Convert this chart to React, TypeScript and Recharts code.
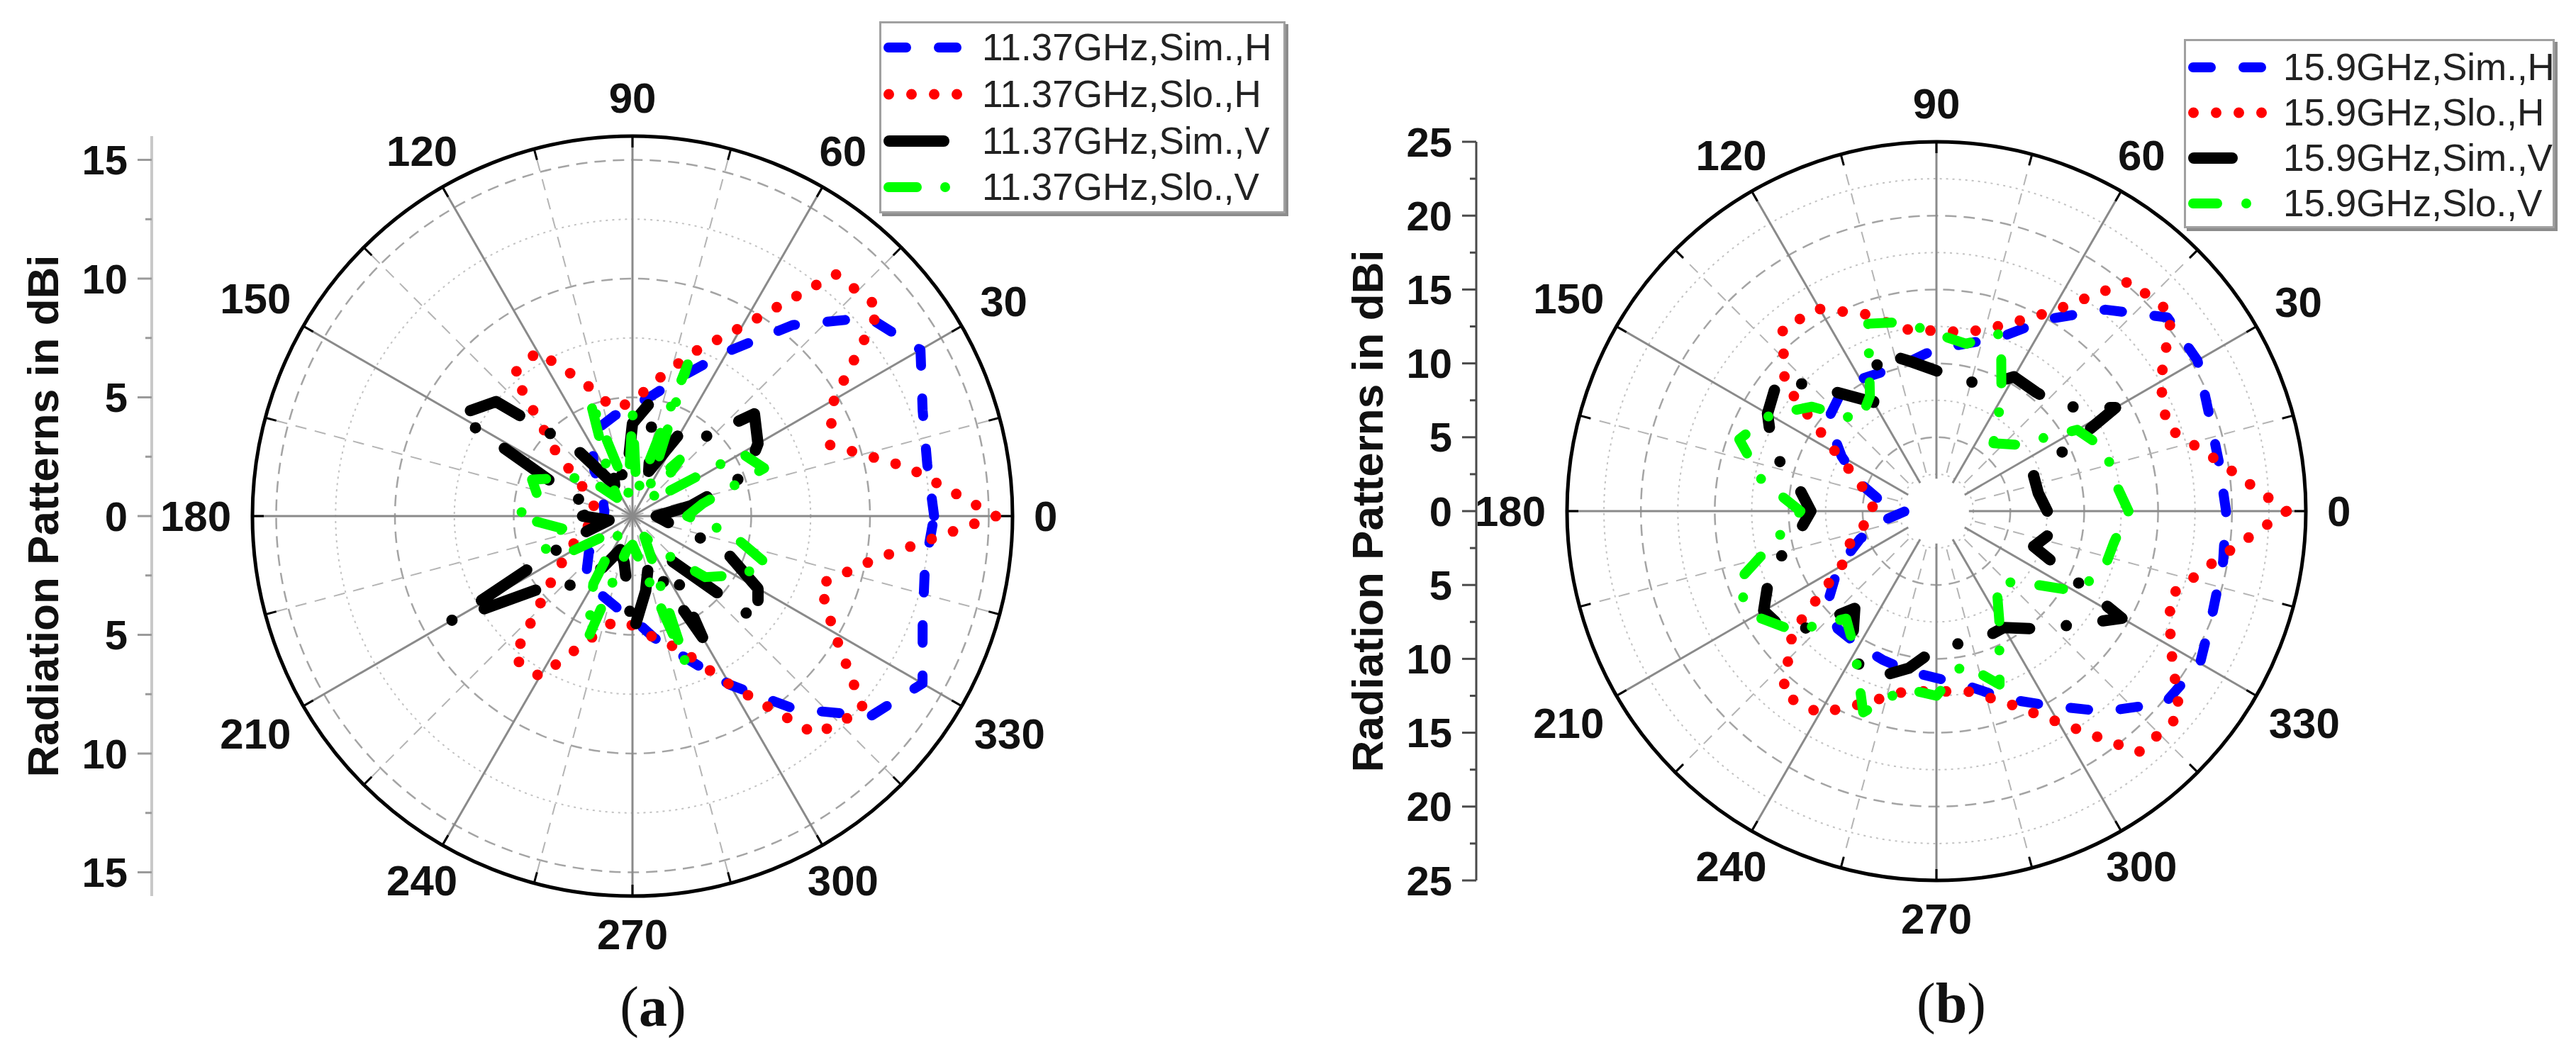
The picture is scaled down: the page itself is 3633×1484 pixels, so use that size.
import React from 'react';
import { RadarChart, Radar, PolarGrid, PolarAngleAxis, PolarRadiusAxis, LineChart, YAxis } from 'recharts';

// ---------- data ----------
const ANGLES = [0, 10, 20, 30, 40, 50, 60, 70, 80, 90, 100, 110, 120, 130, 140, 150, 160, 170, 180, 190, 200, 210, 220, 230, 240, 250, 260, 270, 280, 290, 300, 310, 320, 330, 340, 350];

// panel (a) 11.37 GHz
const A_SIM_H = [12.7, 12.6, 13.0, 14.0, 13.0, 10.5, 8.0, 6.3, 5.2, 4.6, 4.3, 4.0, 3.4, 2.5, 1.6, 1.4, 1.3, 1.2, 1.2, 1.3, 1.5, 1.8, 2.4, 3.0, 3.4, 3.6, 3.9, 4.3, 5.2, 6.3, 8.2, 10.6, 13.1, 14.1, 13.0, 12.5];
const A_SLO_H = [15.3, 11.8, 8.8, 9.8, 13.6, 13.3, 9.2, 7.3, 5.8, 4.8, 4.6, 6.0, 8.0, 7.8, 4.2, 2.4, 1.8, 1.6, 1.6, 1.8, 2.4, 3.2, 4.6, 7.8, 7.8, 5.6, 4.5, 4.6, 5.2, 6.0, 8.2, 12.0, 12.7, 9.8, 8.4, 10.4];
const A_SIM_V = [1.0, 2.5, 5.1, 6.1, 6.7, 4.1, 4.1, 2.0, 5.0, 3.9, 1.5, 2.5, 1.5, 3.7, 7.5, 8.5, 3.0, 1.5, 2.1, 1.0, 2.5, 8.8, 4.5, 3.8, 2.5, 1.5, 2.0, 5.0, 3.2, 2.0, 5.9, 2.3, 6.9, 6.1, 4.1, 1.5];
const A_SLO_V = [2.3, 3.0, 5.9, 5.3, 1.0, 3.1, 1.5, 6.8, 1.0, 4.4, 1.0, 5.3, 2.0, 1.0, 2.5, 3.2, 4.5, 4.0, 4.9, 3.0, 4.0, 3.0, 1.0, 0.8, 3.3, 5.5, 1.5, 1.2, 2.0, 6.6, 1.0, 2.0, 4.0, 5.0, 6.1, 4.2];

// panel (b) 15.9 GHz
const B_SIM_H = [19.6, 19.4, 19.6, 20.4, 20.4, 17.8, 15.0, 12.5, 11.5, 11.0, 10.3, 10.1, 10.3, 10.2, 9.6, 7.4, 5.5, 3.8, 2.1, 3.6, 5.5, 7.7, 9.6, 10.4, 10.5, 10.7, 11.0, 11.3, 12.0, 13.5, 15.2, 17.7, 20.2, 20.6, 19.9, 19.7];
const B_SLO_H = [23.7, 19.4, 16.6, 17.5, 20.8, 20.3, 15.6, 13.4, 12.3, 12.2, 12.5, 14.2, 15.8, 16.2, 13.4, 7.8, 5.5, 4.6, 4.2, 4.9, 6.2, 7.4, 12.7, 16.2, 15.8, 13.8, 12.4, 12.2, 12.4, 13.8, 16.5, 21.3, 21.5, 18.3, 16.8, 19.2];
const B_SIM_V = [7.5, 7.0, 7.0, 14.0, 11.0, 10.5, 10.5, 9.0, 9.2, 9.5, 10.3, 11.5, 8.5, 10.5, 14.0, 13.2, 11.8, 9.5, 8.5, 9.6, 12.0, 13.5, 13.0, 8.6, 11.5, 12.0, 10.8, 9.3, 9.1, 9.2, 9.1, 10.4, 12.0, 14.5, 7.0, 8.0];
const B_SLO_V = [13.0, 12.2, 12.2, 11.0, 7.0, 6.0, 8.8, 12.8, 11.5, 12.0, 13.0, 13.5, 9.0, 8.0, 11.0, 13.0, 14.2, 12.0, 9.2, 11.0, 14.5, 14.2, 12.6, 9.5, 11.0, 14.5, 12.2, 12.5, 10.5, 12.5, 8.5, 6.3, 7.5, 10.8, 12.0, 12.2];

const A_NAMES = ['11.37GHz,Sim.,H', '11.37GHz,Slo.,H', '11.37GHz,Sim.,V', '11.37GHz,Slo.,V'];
const B_NAMES = ['15.9GHz,Sim.,H', '15.9GHz,Slo.,H', '15.9GHz,Sim.,V', '15.9GHz,Slo.,V'];

const ANGLE_LABELS = [0, 30, 60, 90, 120, 150, 180, 210, 240, 270, 300, 330];
const MINOR_SPOKES = [15, 45, 75, 105, 135, 165, 195, 225, 255, 285, 315, 345];
const EDGE_TICKS = [0, 15, 30, 45, 60, 75, 90, 105, 120, 135, 150, 165, 180, 195, 210, 225, 240, 255, 270, 285, 300, 315, 330, 345];

const A_RING_MAJOR = [5, 10, 15];
const A_RING_MINOR = [2.5, 7.5, 12.5];
const B_RING_MAJOR = [5, 10, 15, 20];
const B_RING_MINOR = [2.5, 7.5, 12.5, 17.5, 22.5];

const A_Y_TICKS = [-15, -12.5, -10, -7.5, -5, -2.5, 0, 2.5, 5, 7.5, 10, 12.5, 15];
const B_Y_TICKS = [-25, -22.5, -20, -17.5, -15, -12.5, -10, -7.5, -5, -2.5, 0, 2.5, 5, 7.5, 10, 12.5, 15, 17.5, 20, 22.5, 25];

const KEYS = ['simH', 'sloH', 'simV', 'sloV'];

const buildRows = (s1: number[], s2: number[], s3: number[], s4: number[]) =>
  ANGLES.map((angle, i) => ({ angle, simH: s1[i], sloH: s2[i], simV: s3[i], sloV: s4[i] }));

const A_ROWS = buildRows(A_SIM_H, A_SLO_H, A_SIM_V, A_SLO_V);
const B_ROWS = buildRows(B_SIM_H, B_SLO_H, B_SIM_V, B_SLO_V);

// ---------- styles ----------
const FONT = "'Liberation Sans', Arial, Helvetica, sans-serif";
const H = 1484;
// category band width of the angle axis (10 degrees); the band scale shifts
// points by one band, so the range starts one band earlier.
const BAND = 360 / ANGLES.length;

const STYLE_A = [
  { color: '#0000ff', width: 14, dash: '25 46' },
  { color: '#ff0000', width: 15, dash: '0 32' },
  { color: '#000000', width: 16, dash: '77 50 0 50' },
  { color: '#00ff00', width: 14, dash: '40 40 0 40' },
];
const STYLE_B = [
  { color: '#0000ff', width: 14, dash: '25 46' },
  { color: '#ff0000', width: 15, dash: '0 32' },
  { color: '#000000', width: 16, dash: '54 52 0 52' },
  { color: '#00ff00', width: 14, dash: '34 41 0 41' },
];

type PanelCfg = {
  left: number; width: number; cx: number; cy: number; R: number; rMax: number;
  rows: any[]; names: string[]; styles: any[];
  ringMajor: number[]; ringMinor: number[]; yTicks: number[];
  axisX: number; axisStroke: string; axisWidth: number; tickStroke: string;
  hole: number;
  legend: { left: number; top: number; width: number; height: number; rows: number[]; sampleLen: number; textLeft: number };
  label: string; labelX: number; labelY: number;
};

const PANELS: PanelCfg[] = [
  {
    left: 0, width: 1816, cx: 892, cy: 728, R: 536, rMax: 16,
    rows: A_ROWS, names: A_NAMES, styles: STYLE_A,
    ringMajor: A_RING_MAJOR, ringMinor: A_RING_MINOR, yTicks: A_Y_TICKS,
    axisX: 214, axisStroke: '#c8c8c8', axisWidth: 4, tickStroke: '#9a9a9a',
    hole: 0,
    legend: { left: 1240, top: 30, width: 573, height: 271, rows: [34, 100, 166, 231], sampleLen: 114, textLeft: 145 },
    label: 'a', labelX: 921, labelY: 1420,
  },
  {
    left: 1816, width: 1817, cx: 915, cy: 721, R: 521, rMax: 25,
    rows: B_ROWS, names: B_NAMES, styles: STYLE_B,
    ringMajor: B_RING_MAJOR, ringMinor: B_RING_MINOR, yTicks: B_Y_TICKS,
    axisX: 266, axisStroke: '#4a4a4a', axisWidth: 3, tickStroke: '#4a4a4a',
    hole: 2.2,
    legend: { left: 1264, top: 55, width: 523, height: 267, rows: [37, 101, 165, 229], sampleLen: 110, textLeft: 140 },
    label: 'b', labelX: 2752, labelY: 1415,
  },
];

const makeAngleTick = (cx: number, cy: number, R: number) => (props: any) => {
  const { payload } = props;
  const value = Number(payload?.value);
  if (!ANGLE_LABELS.includes(value)) return <g />;
  const rad = (value * Math.PI) / 180;
  const c = Math.cos(rad);
  const s = Math.sin(rad);
  const text = String(value);
  const hw = (text.length * 0.556 * 60) / 2;
  const hh = 24;
  const ex = Math.abs(c) > 1e-6 ? hw / Math.abs(c) : Infinity;
  const ey = Math.abs(s) > 1e-6 ? hh / Math.abs(s) : Infinity;
  const d = R + 30 + Math.min(ex, ey);
  return (
    <text x={cx + d * c} y={cy - d * s} textAnchor="middle" dominantBaseline="central"
      fontFamily={FONT} fontWeight="bold" fontSize={60} fill="#111">
      {text}
    </text>
  );
};

const makeYTick = (stroke: string) => (props: any) => {
  const { x, y, payload } = props;
  const v = Number(payload.value);
  const major = Math.abs(v % 5) < 1e-6;
  const len = major ? 20 : 9;
  return (
    <g>
      <line x1={x - len} x2={x} y1={y} y2={y} stroke={stroke} strokeWidth={3} />
      {major && (
        <text x={x - 34} y={y} textAnchor="end" dominantBaseline="central"
          fontFamily={FONT} fontWeight="bold" fontSize={58} fill="#111">
          {Math.abs(v)}
        </text>
      )}
    </g>
  );
};

const titleLabel = (props: any) => {
  const vb = props.viewBox || {};
  const x = (vb.x || 0) + (vb.width || 0) - 154;
  const y = (vb.y || 0) + (vb.height || 0) / 2;
  return (
    <text x={x} y={y} transform={`rotate(-90 ${x} ${y})`} textAnchor="middle" dominantBaseline="central"
      fontFamily={FONT} fontWeight="bold" fontSize={62} fill="#111">
      Radiation Patterns in dBi
    </text>
  );
};

function Panel({ cfg }: { cfg: PanelCfg }) {
  const px = (v: number) => (v * cfg.R) / cfg.rMax;
  const holePx = px(cfg.hole);
  return (
    <div style={{ position: 'absolute', left: cfg.left, top: 0, width: cfg.width, height: H }}>
      <div style={{ position: 'absolute', left: 0, top: 0 }}>
        <LineChart width={cfg.axisX + 12} height={H} data={[{ v: 0 }]}
          margin={{ top: cfg.cy - cfg.R, bottom: H - (cfg.cy + cfg.R), left: 0, right: 0 }}>
          <YAxis type="number" domain={[-cfg.rMax, cfg.rMax]} ticks={cfg.yTicks} interval={0}
            width={cfg.axisX} allowDataOverflow
            axisLine={{ stroke: cfg.axisStroke, strokeWidth: cfg.axisWidth }}
            tickLine={false} tickSize={0} tickMargin={0}
            tick={makeYTick(cfg.tickStroke)} label={titleLabel} />
        </LineChart>
      </div>
      <div style={{ position: 'absolute', left: 0, top: 0 }}>
        <RadarChart width={cfg.width} height={H} data={cfg.rows} cx={cfg.cx} cy={cfg.cy}
          outerRadius={cfg.R} innerRadius={0} startAngle={-BAND} endAngle={360 - BAND}
          margin={{ top: 0, right: 0, bottom: 0, left: 0 }}>
          <PolarGrid gridType="circle" radialLines={false} polarRadius={cfg.ringMinor.map(px)}
            stroke="#c2c2c2" strokeWidth={2} strokeDasharray="3 6" />
          <PolarGrid gridType="circle" radialLines={false} polarRadius={cfg.ringMajor.map(px)}
            stroke="#a4a4a4" strokeWidth={2.5} strokeDasharray="16 10" />
          <PolarGrid gridType="circle" polarRadius={[]} polarAngles={MINOR_SPOKES}
            stroke="#b4b4b4" strokeWidth={2} strokeDasharray="16 12" />
          <PolarGrid gridType="circle" polarRadius={[]} polarAngles={ANGLE_LABELS}
            stroke="#8a8a8a" strokeWidth={3} />
          {cfg.hole > 0 && (
            <PolarGrid gridType="circle" radialLines={false} polarRadius={[holePx / 2]}
              stroke="#ffffff" strokeWidth={holePx} />
          )}
          <PolarGrid gridType="circle" polarRadius={[]} polarAngles={EDGE_TICKS}
            stroke="#000" strokeWidth={3} strokeDasharray={`0 ${cfg.R - 16} 16 ${cfg.R}`} />
          <PolarGrid gridType="circle" radialLines={false} polarRadius={[cfg.R]}
            stroke="#000" strokeWidth={5} />
          <PolarAngleAxis dataKey="angle" tickLine={false} axisLine={false}
            tick={makeAngleTick(cfg.cx, cfg.cy, cfg.R)} />
          <PolarRadiusAxis type="number" domain={[0, cfg.rMax]} tick={false} axisLine={false} tickLine={false} />
          {KEYS.map((k, i) => (
            <Radar key={k} dataKey={k} name={cfg.names[i]} stroke={cfg.styles[i].color}
              strokeWidth={cfg.styles[i].width} strokeDasharray={cfg.styles[i].dash}
              strokeLinecap="round" strokeLinejoin="round"
              fill="none" fillOpacity={0} dot={false} isAnimationActive={false} />
          ))}
        </RadarChart>
      </div>
      <div style={{
        position: 'absolute', left: cfg.legend.left, top: cfg.legend.top, width: cfg.legend.width,
        height: cfg.legend.height, boxSizing: 'border-box', border: '3px solid #a0a0a0',
        boxShadow: '4px 4px 0 #8c8c8c', background: '#fff',
      }}>
        {cfg.names.map((n, i) => (
          <div key={n} style={{ position: 'absolute', left: 0, top: cfg.legend.rows[i] - 33, height: 66, width: '100%' }}>
            <svg width={cfg.legend.sampleLen + 12} height={66} style={{ position: 'absolute', left: 0, top: 0 }}>
              <line x1={3 + cfg.styles[i].width / 2} x2={cfg.legend.sampleLen} y1={33} y2={33}
                stroke={cfg.styles[i].color} strokeWidth={cfg.styles[i].width}
                strokeDasharray={cfg.styles[i].dash} strokeLinecap="round" />
            </svg>
            <div style={{
              position: 'absolute', left: cfg.legend.textLeft - 3, top: 0, height: 66, lineHeight: '66px',
              fontFamily: FONT, fontSize: 53, color: '#222', whiteSpace: 'nowrap',
            }}>{n}</div>
          </div>
        ))}
      </div>
      <div style={{
        position: 'absolute', left: cfg.labelX - cfg.left - 100, top: cfg.labelY - 45, width: 200,
        height: 90, lineHeight: '90px', textAlign: 'center',
        fontFamily: "'Liberation Serif', 'DejaVu Serif', serif", fontSize: 80, color: '#111',
      }}>
        (<b>{cfg.label}</b>)
      </div>
    </div>
  );
}

export default function App() {
  return (
    <div style={{ position: 'absolute', left: 0, top: 0, width: 3633, height: H, background: '#fff', overflow: 'hidden' }}>
      {PANELS.map((p) => (
        <Panel key={p.label} cfg={p} />
      ))}
    </div>
  );
}
